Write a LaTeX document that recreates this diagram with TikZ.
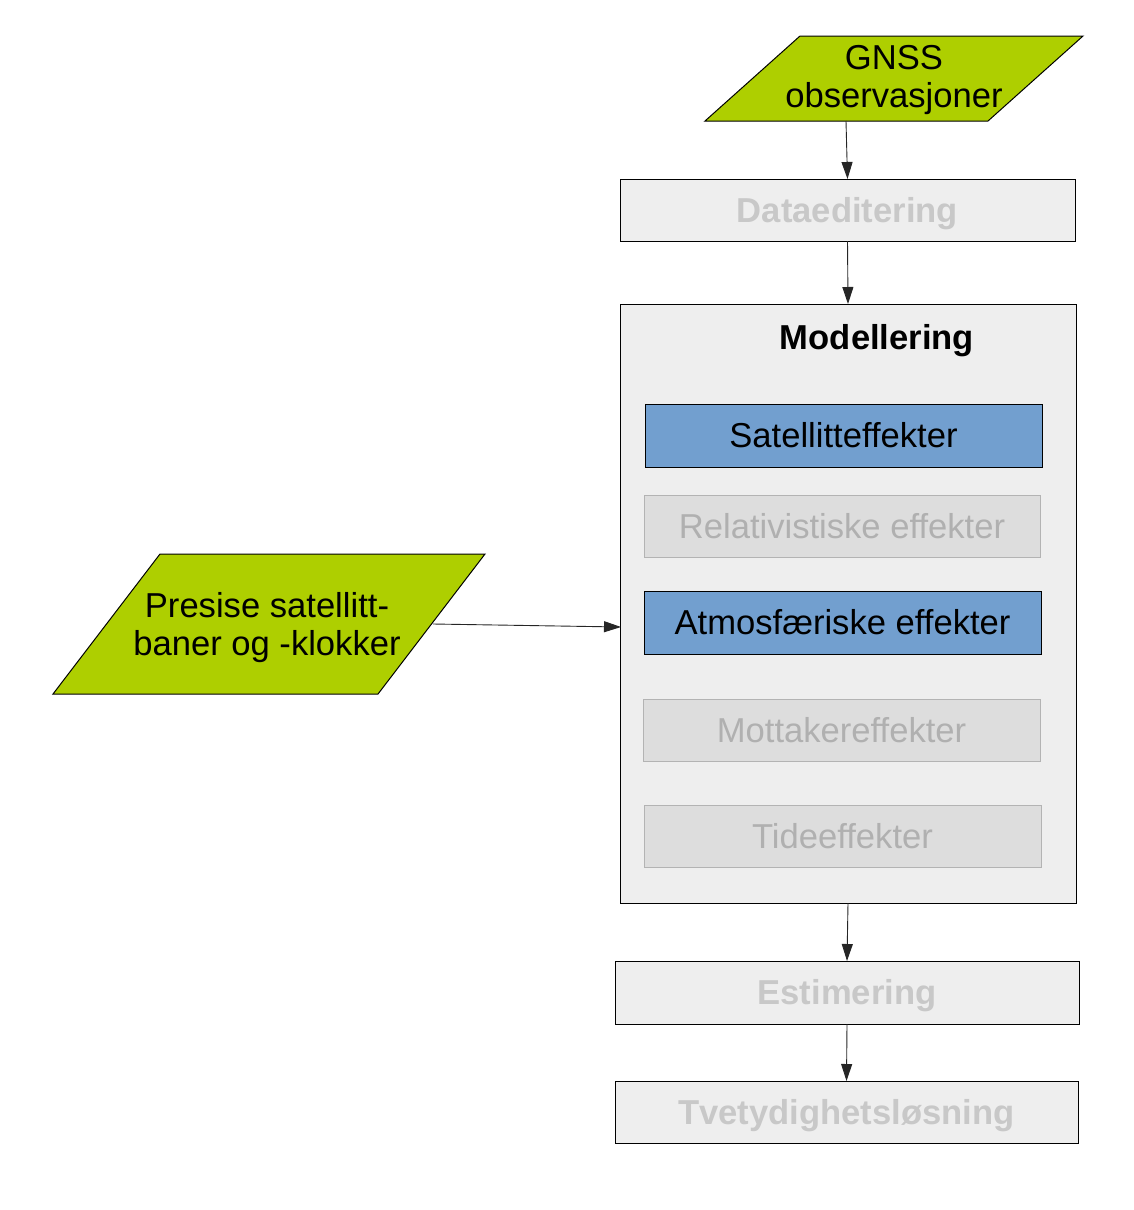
\documentclass[tikz,border=0pt]{standalone}
\usepackage{fontspec}
\setmainfont{Liberation Sans}
\usetikzlibrary{arrows.meta}
\definecolor{grn}{HTML}{AECF00}
\definecolor{blu}{HTML}{729FCF}
\definecolor{boxfill}{HTML}{EEEEEE}
\definecolor{innerfill}{HTML}{DDDDDD}
\definecolor{outertext}{HTML}{C8C8C8}
\definecolor{innertext}{HTML}{B0B0B0}
\definecolor{innerline}{HTML}{B3B3B3}
\begin{document}
\begin{tikzpicture}[x=1pt,y=-1pt,
  every node/.style={font=\fontsize{34.6pt}{38pt}\selectfont, inner sep=0pt, outer sep=0pt},
  oneline/.style={text height=24.8pt, text depth=0pt},
  outerbox/.style={oneline, draw=black, line width=1pt, fill=boxfill, text=outertext, font=\fontsize{34.6pt}{38pt}\selectfont\bfseries},
  bluebox/.style={oneline, draw=black, line width=1pt, fill=blu, text=black, minimum width=397pt, minimum height=63pt},
  graybox/.style={oneline, draw=innerline, line width=1pt, fill=innerfill, text=innertext, minimum width=397pt, minimum height=62pt},
  para/.style={draw=black, line width=1pt, fill=grn},
  arr/.style={draw=black!85, line width=0.9pt, -{Triangle[length=17pt,width=11pt]}}
]
\useasboundingbox (0,0) rectangle (1134,1210);

% parallelograms
\draw[para] (705,121) -- (800,36) -- (1083,36) -- (988,121) -- cycle;
\node[align=center] (gnss) at (894,80) {GNSS\\observasjoner};
\coordinate (gnssb) at (846,121);

\draw[para] (53,694) -- (160,554) -- (485,554) -- (378,694) -- cycle;
\node[align=center] (pres) at (267,628) {Presise satellitt-\\baner og -klokker};
\coordinate (presr) at (433,624);

% boxes
\node[outerbox, minimum width=455pt, minimum height=62pt] (dat) at (847.5,210) {Dataeditering};
\node[draw=black, line width=1pt, fill=boxfill, minimum width=456pt, minimum height=599pt] (mod) at (848,603.5) {};
\node[oneline, font=\fontsize{34.6pt}{38pt}\selectfont\bfseries] (modt) at (877,337) {Modellering};
\node[bluebox] (sat) at (843.5,435.5) {Satellitteffekter};
\node[graybox, minimum width=396pt] (rel) at (842,526) {Relativistiske effekter};
\node[bluebox] (atm) at (842.5,622.5) {Atmosfæriske effekter};
\node[graybox] (mot) at (841.5,730) {Mottakereffekter};
\node[graybox] (tid) at (842.5,836) {Tideeffekter};
\node[outerbox, minimum width=464pt, minimum height=63pt] (est) at (847,992.5) {Estimering};
\node[outerbox, minimum width=463pt, minimum height=62pt] (tve) at (846.5,1112) {Tvetydighetsløsning};
\coordinate (modin) at (621,627);

% connectors
\draw[arr] (gnssb) -- (dat.north);
\draw[arr] (dat.south) -- (mod.north);
\draw[arr] (presr) -- (modin);
\draw[arr] (mod.south) -- (est.north);
\draw[arr] (est.south) -- (tve.north);
\end{tikzpicture}
\end{document}
